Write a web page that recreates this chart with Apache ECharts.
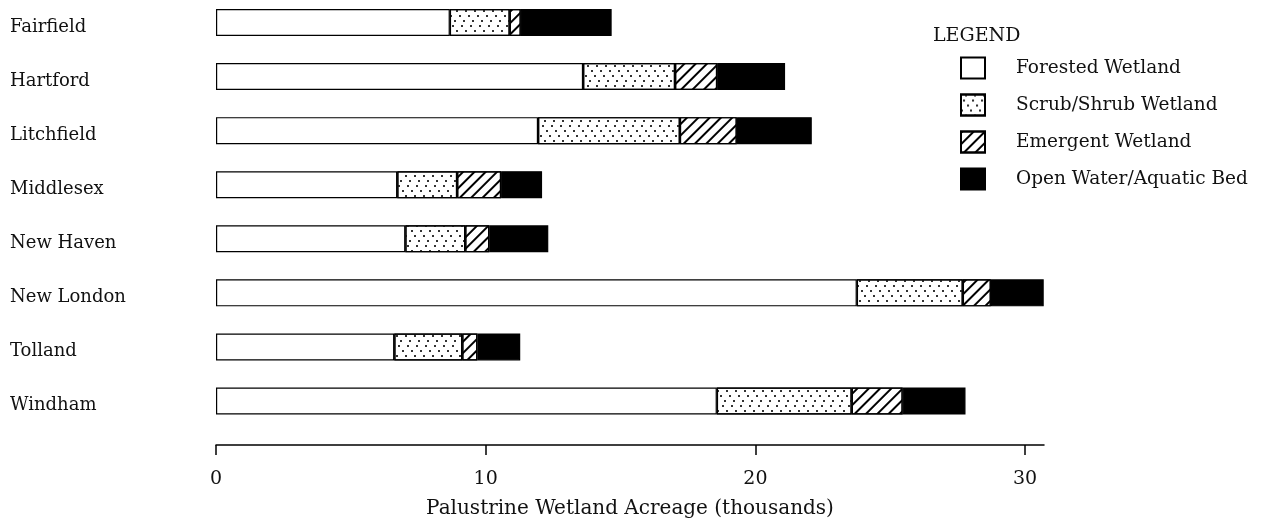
<!DOCTYPE html>
<html>
<head>
<meta charset="utf-8">
<script src="https://cdn.jsdelivr.net/npm/echarts@6/dist/echarts.min.js"></script>
<style>html,body{margin:0;padding:0;background:#fff}#c{width:1261px;height:527px}</style>
</head>
<body>
<div id="c"></div>
<script>
const counties = ['Fairfield','Hartford','Litchfield','Middlesex','New Haven','New London','Tolland','Windham'];
const forested = [8.67, 13.61, 11.94, 6.72, 7.02, 23.76, 6.61, 18.57];
const scrubShrub = [2.22, 3.41, 5.26, 2.22, 2.22, 3.93, 2.52, 5.00];
const emergent = [0.41, 1.56, 2.11, 1.63, 0.89, 1.04, 0.56, 1.89];
const openWater = [3.37, 2.52, 2.78, 1.52, 2.19, 1.96, 1.59, 2.33];
const xTicks = [0, 10, 20, 30];

const FONT = 'DejaVu Serif';
const chart = echarts.init(document.getElementById('c'), null, {renderer: 'canvas'});

const border = {borderColor: '#000', borderWidth: 1.2};
function mk(name, data, extra) {
  return {
    name: name, type: 'bar', stack: 'total', data: data, barWidth: 27,
    itemStyle: Object.assign({color: '#fff'}, border, extra || {}),
    emphasis: {disabled: true}
  };
}

chart.setOption({
  animation: false,
  backgroundColor: '#fff',
  title: {
    text: 'LEGEND', left: 928, top: 22,
    textStyle: {fontFamily: FONT, fontSize: 19, fontWeight: 'normal', color: '#111'}
  },
  legend: {
    orient: 'vertical', left: 955, top: 51.5, itemWidth: 24, itemHeight: 21, itemGap: 14,
    icon: 'rect',
    textStyle: {fontFamily: FONT, fontSize: 18.5, lineHeight: 21, color: '#111', padding: [0, 0, 0, 26]},
    selectedMode: false,
    data: ['Forested Wetland', 'Scrub/Shrub Wetland', 'Emergent Wetland', 'Open Water/Aquatic Bed']
  },
  grid: {left: 216, right: 217, top: 22.5, bottom: 126, containLabel: false},
  xAxis: {
    type: 'value', min: 0, max: 30.7, interval: 10, position: 'bottom', offset: 44,
    name: 'Palustrine Wetland Acreage (thousands)', nameLocation: 'middle', nameGap: 54,
    nameTextStyle: {fontFamily: FONT, fontSize: 20, color: '#111'},
    axisLine: {show: true, lineStyle: {color: '#000', width: 1.5}},
    axisTick: {show: true, length: 10, inside: false, lineStyle: {color: '#000', width: 1.5},
      customValues: xTicks},
    axisLabel: {fontFamily: FONT, fontSize: 19, color: '#111', margin: 25, customValues: xTicks},
    splitLine: {show: false}
  },
  yAxis: {
    type: 'category', data: counties, inverse: true, boundaryGap: false,
    axisLine: {show: false}, axisTick: {show: false}, splitLine: {show: false},
    axisLabel: {fontFamily: FONT, fontSize: 18, color: '#111', align: 'left', margin: 206,
      verticalAlign: 'top', lineHeight: 9}
  },
  series: [
    mk('Forested Wetland', forested),
    mk('Scrub/Shrub Wetland', scrubShrub, {decal: {
      symbol: 'rect', symbolSize: 1, color: '#333', backgroundColor: 'rgba(0,0,0,0)',
      dashArrayX: [[1.2, 6.8], [0, 4, 1.2, 2.8], [0, 2, 1.2, 4.8], [0, 6, 1.2, 0.8]], dashArrayY: [1.2, 2.8]
    }}),
    mk('Emergent Wetland', emergent, {decal: {
      symbol: 'rect', symbolSize: 1, color: '#000', backgroundColor: 'rgba(0,0,0,0)',
      dashArrayX: [1, 0], dashArrayY: [1.6, 5.8], rotation: -Math.PI / 4
    }}),
    mk('Open Water/Aquatic Bed', openWater, {color: '#000'})
  ]
});
</script>
</body>
</html>
